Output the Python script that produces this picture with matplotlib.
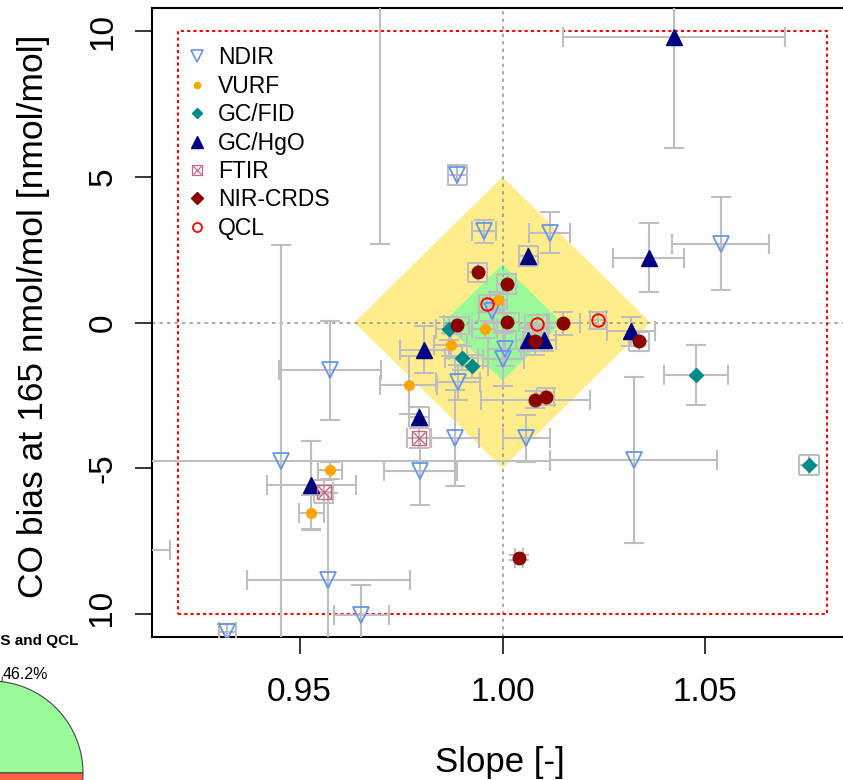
import matplotlib
matplotlib.use('Agg')
import matplotlib.pyplot as plt
from matplotlib.lines import Line2D
from matplotlib.patches import Rectangle
import numpy as np

plt.rcParams['font.family'] = ['Liberation Sans', 'DejaVu Sans']
plt.rcParams['axes.unicode_minus'] = False

# ---- data (slope [-], bias at 165 nmol/mol) ----
ndir_slope = [0.9889, 0.9955, 1.0116, 1.0538, 0.9575, 0.9973, 1.0005, 1.0002, 0.9890,
              0.9882, 1.0059, 0.9797, 0.9453, 1.0323, 0.9571, 0.9652, 0.9322, 0.9698, 0.8800]
ndir_bias = [5.06, 3.13, 3.08, 2.70, -1.64, 0.40, -0.90, -1.27, -2.05,
             -3.98, -3.98, -5.10, -4.74, -4.72, -8.84, -10.03, -10.64, 16.0, -7.80]
ndir_slope_err = [0.0024, 0.003, 0.005, 0.012, 0.0125, 0.003, 0.004, 0.005, 0.0055,
                  0.006, 0.0059, 0.009, 0.0663, 0.0206, 0.020, 0.0067, 0.002, 0.005, 0.038]
ndir_bias_err = [0.34, 0.4, 0.7, 1.6, 1.7, 0.4, 0.6, 0.9, 0.6,
                 1.65, 0.8, 1.15, 7.4, 2.85, 3.0, 1.0, 0.3, 13.3, 0.5]

vurf_slope = [0.9990, 0.9956, 0.9872, 0.9769, 0.9575, 0.9529]
vurf_bias = [0.76, -0.24, -0.76, -2.15, -5.08, -6.53]
vurf_slope_err = [0.002, 0.003, 0.004, 0.007, 0.003, 0.003]
vurf_bias_err = [0.3, 0.3, 0.4, 1.0, 0.3, 0.6]

fid_slope = [0.9867, 0.9899, 0.9924, 1.0477, 1.0756]
fid_bias = [-0.21, -1.22, -1.50, -1.80, -4.90]
fid_slope_err = [0.003, 0.004, 0.004, 0.0079, 0.0024]
fid_bias_err = [0.4, 0.4, 0.4, 1.03, 0.34]

hgo_slope = [1.0423, 1.0360, 1.0064, 0.9807, 0.9794, 0.9529, 1.0064, 1.0103, 1.0317]
hgo_bias = [9.80, 2.22, 2.27, -0.93, -3.24, -5.58, -0.59, -0.59, -0.30]
hgo_slope_err = [0.0274, 0.0088, 0.0024, 0.006, 0.0024, 0.011, 0.003, 0.003, 0.006]
hgo_bias_err = [3.8, 1.18, 0.34, 0.8, 0.34, 1.5, 0.4, 0.4, 0.5]

ftir_slope = [0.9794, 0.9559]
ftir_bias = [-3.98, -5.81]
ftir_slope_err = [0.003, 0.0024]
ftir_bias_err = [0.34, 0.4]

crds_slope = [0.9939, 1.0010, 1.0010, 0.9887, 1.0150, 1.0081, 1.0337, 1.0081, 1.0106, 1.0041]
crds_bias = [1.72, 1.31, 0.02, -0.10, -0.03, -0.62, -0.65, -2.65, -2.55, -8.07]
crds_slope_err = [0.0024, 0.0024, 0.003, 0.003, 0.004, 0.003, 0.0024, 0.0135, 0.002, 0.001]
crds_bias_err = [0.34, 0.34, 0.3, 0.3, 0.4, 0.5, 0.34, 0.3, 0.3, 0.1]

qcl_slope = [0.9963, 1.0085, 1.0236]
qcl_bias = [0.65, -0.05, 0.07]
qcl_slope_err = [0.002, 0.003, 0.002]
qcl_bias_err = [0.3, 0.3, 0.3]

# compatibility goals (bias limit, matching slope half width)
goal_bias = [5.0, 2.0]
goal_slope = [0.0365, 0.0146]

pie_labels = ['46.2%', '53.8%']
pie_shares = [46.2, 53.8]

W, H = 843., 780.
def px_box(x0, y0, x1, y1):
  return [x0 / W, 1 - y1 / H, (x1 - x0) / W, (y1 - y0) / H]

fig = plt.figure(figsize=(W / 100, H / 100), dpi=100)
ax = fig.add_axes(px_box(152, 8, 853, 637))
ax.set_xlim(0.9136, 1.0864)
ax.set_ylim(-10.8, 10.8)

# goal diamonds
fills = ['#FFEC8B', '#98FB98']
for b, s, c in zip(goal_bias, goal_slope, fills):
  ax.fill([1 - s, 1, 1 + s, 1], [0, b, 0, -b], color=c, lw=0, zorder=1)

ax.axvline(1.0, color='#999999', ls=(0, (2, 2.5)), lw=1.2, zorder=2)
ax.axhline(0.0, color='#999999', ls=(0, (2, 2.5)), lw=1.2, zorder=2)
ax.add_patch(Rectangle((0.92, -10), 0.16, 20, fill=False, ec='red',
                       ls=(0, (1.5, 1.5)), lw=1.5, zorder=2))

series = [
  ('NDIR', ndir_slope, ndir_bias, ndir_slope_err, ndir_bias_err,
   dict(marker='v', mfc='none', mec='#6495ED', ms=12, mew=1.3)),
  ('VURF', vurf_slope, vurf_bias, vurf_slope_err, vurf_bias_err,
   dict(marker='o', mfc='#FFA500', mec='#FFA500', ms=7)),
  ('GC/FID', fid_slope, fid_bias, fid_slope_err, fid_bias_err,
   dict(marker='D', mfc='#008B8B', mec='#008B8B', ms=7)),
  ('GC/HgO', hgo_slope, hgo_bias, hgo_slope_err, hgo_bias_err,
   dict(marker='^', mfc='#000080', mec='#000080', ms=11)),
  ('FTIR', ftir_slope, ftir_bias, ftir_slope_err, ftir_bias_err,
   dict(marker='s', mfc='none', mec='#C86487', ms=10, mew=1.0)),
  ('NIR-CRDS', crds_slope, crds_bias, crds_slope_err, crds_bias_err,
   dict(marker='o', mfc='#8B0000', mec='#8B0000', ms=9)),
  ('QCL', qcl_slope, qcl_bias, qcl_slope_err, qcl_bias_err,
   dict(marker='o', mfc='none', mec='#FF0000', ms=9, mew=1.4)),
]

for name, xs, ys, xe, ye, st in series:
  ax.errorbar(xs, ys, xerr=xe, yerr=ye, fmt='none', ecolor='#BEBEBE',
              elinewidth=1.5, capsize=7, capthick=1.5, zorder=3)
for name, xs, ys, xe, ye, st in series:
  ax.plot(xs, ys, ls='none', zorder=4, **st)
ax.plot(ftir_slope, ftir_bias, ls='none', marker='x', mec='#C86487', ms=8, mew=1.0, zorder=4)

# legend
h_ndir = Line2D([], [], ls='none', marker='v', mfc='none', mec='#6495ED', ms=9, mew=1.2)
h_vurf = Line2D([], [], ls='none', marker='o', color='#FFA500', ms=4.5)
h_fid = Line2D([], [], ls='none', marker='D', color='#008B8B', ms=5.5)
h_hgo = Line2D([], [], ls='none', marker='^', color='#000080', ms=8)
h_ftir = (Line2D([], [], ls='none', marker='s', mfc='none', mec='#C86487', ms=7, mew=0.9),
          Line2D([], [], ls='none', marker='x', mec='#C86487', ms=6, mew=0.9))
h_crds = Line2D([], [], ls='none', marker='D', color='#8B0000', ms=6)
h_qcl = Line2D([], [], ls='none', marker='o', mfc='none', mec='#FF0000', ms=6.5, mew=1.3)
ax.legend([h_ndir, h_vurf, h_fid, h_hgo, h_ftir, h_crds, h_qcl],
          [s[0] for s in series], loc='upper left', bbox_to_anchor=(0.0478, 0.939),
          frameon=False, borderpad=0, borderaxespad=0, handlelength=1.0,
          handletextpad=0.41, labelspacing=0.235, fontsize=16.5)

ax.set_xticks([0.95, 1.00, 1.05])
ax.set_xticklabels(['0.95', '1.00', '1.05'])
ax.set_yticks([-10, -5, 0, 5, 10])
ax.set_yticklabels(['-10', '-5', '0', '5', '10'], rotation=90, va='center')
ax.tick_params(direction='out', length=12, width=1.1, labelsize=24)
ax.tick_params(axis='x', pad=17)
ax.tick_params(axis='y', pad=12)
for sp in ax.spines.values():
  sp.set_linewidth(1.5)

ax.set_xlabel('Slope [-]', fontsize=25)
ax.set_ylabel('CO bias at 165 nmol/mol [nmol/mol]', fontsize=25.5)
ax.xaxis.set_label_coords(0.496, -0.174)
ax.yaxis.set_label_coords(-0.146, 0.51)

# neighbouring pie panel, mostly cut off
pax = fig.add_axes(px_box(-120, 627, 140, 900), zorder=5)
pax.pie(pie_shares, colors=['#98FB98', '#FF6347'], startangle=0, counterclock=True,
        labels=pie_labels, labeldistance=1.08, frame=True,
        wedgeprops=dict(edgecolor='#444444', linewidth=0.8),
        textprops=dict(fontsize=11.5))
mid = np.deg2rad(180 * pie_shares[0] / sum(pie_shares))
pax.plot([np.cos(mid), 1.05 * np.cos(mid)], [np.sin(mid), 1.05 * np.sin(mid)],
         color='#444444', lw=0.8)
pax.set_aspect('auto')
pax.set_xlim((-120 + 9) / 92, (140 + 9) / 92)
pax.set_ylim((773 - 900) / 92, (773 - 627) / 92)
pax.set_facecolor('white')
pax.set_xticks([])
pax.set_yticks([])
for sp in pax.spines.values():
  sp.set_visible(False)
pax.text(78 / W, 1 - 641 / H, 'NIR-CRDS and QCL', transform=fig.transFigure,
         ha='right', va='center', fontsize=11, fontweight='bold')

fig.savefig('out.png', dpi=100)
